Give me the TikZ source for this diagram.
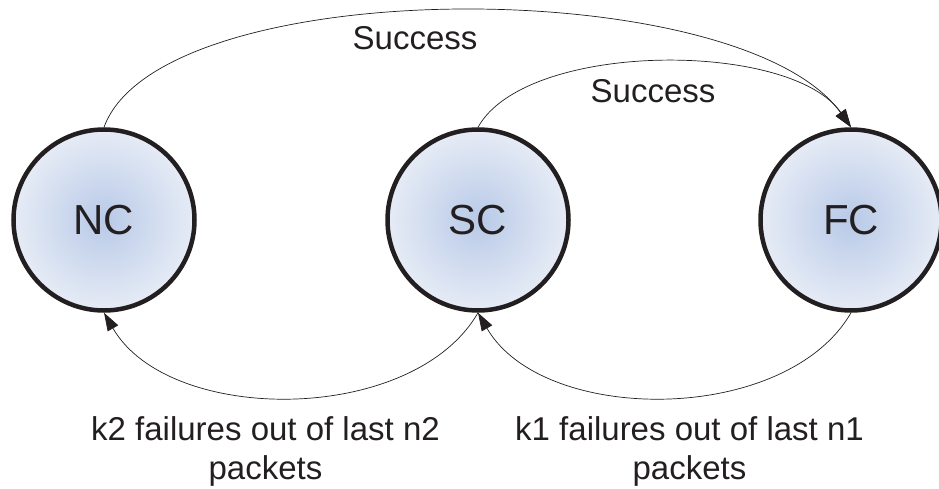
\documentclass[tikz,border=0pt]{standalone}
\usepackage{fontspec}
\setmainfont{Liberation Sans}
\usetikzlibrary{arrows.meta}
\definecolor{stateinner}{RGB}{184,201,231}
\definecolor{stateouter}{RGB}{230,236,246}
\definecolor{inkdark}{RGB}{35,31,32}

\begin{document}
\begin{tikzpicture}[
  x=1pt, y=1pt,
  every node/.style = {font=\fontsize{33}{39}\selectfont, text=inkdark},
  state/.style = {circle, draw=inkdark, line width=4.5pt, minimum size=181pt,
                  inner sep=0pt, inner color=stateinner, outer color=stateouter,
                  font=\fontsize{42}{50}\selectfont},
  trans/.style = {-{Triangle[length=18pt,width=12pt]}, line width=0.7pt, inkdark},
  lbl/.style = {inner sep=0pt, align=center},
]
\useasboundingbox (0,0) rectangle (939,488);

%% ── States ───────────────────────────────────────────────────────────────────
\node[state] (NC) at (104,268) {NC};
\node[state] (SC) at (478,268) {SC};
\node[state] (FC) at (851,268) {FC};

%% ── Success transitions (top) ───────────────────────────────────────────────
\draw[trans] (NC.north) to[out=70, in=125.6, out distance=165pt, in distance=191pt] (FC.north);
\draw[trans] (SC.north) to[out=61, in=124.6, out distance=99pt, in distance=106pt] (FC.north);
\node[lbl] (sucNC) at (415,449.5) {Success};
\node[lbl] (sucSC) at (653,396.5) {Success};

%% ── Failure transitions (bottom) ────────────────────────────────────────────
\draw[trans] (SC.south) to[out=240, in=300, out distance=130pt, in distance=130pt] (NC.south);
\draw[trans] (FC.south) to[out=240, in=300, out distance=130pt, in distance=130pt] (SC.south);
\node[lbl] (failSC) at (265.5,36.5) {k2 failures out of last n2\\packets};
\node[lbl] (failFC) at (689.5,36.5) {k1 failures out of last n1\\packets};

\end{tikzpicture}
\end{document}
